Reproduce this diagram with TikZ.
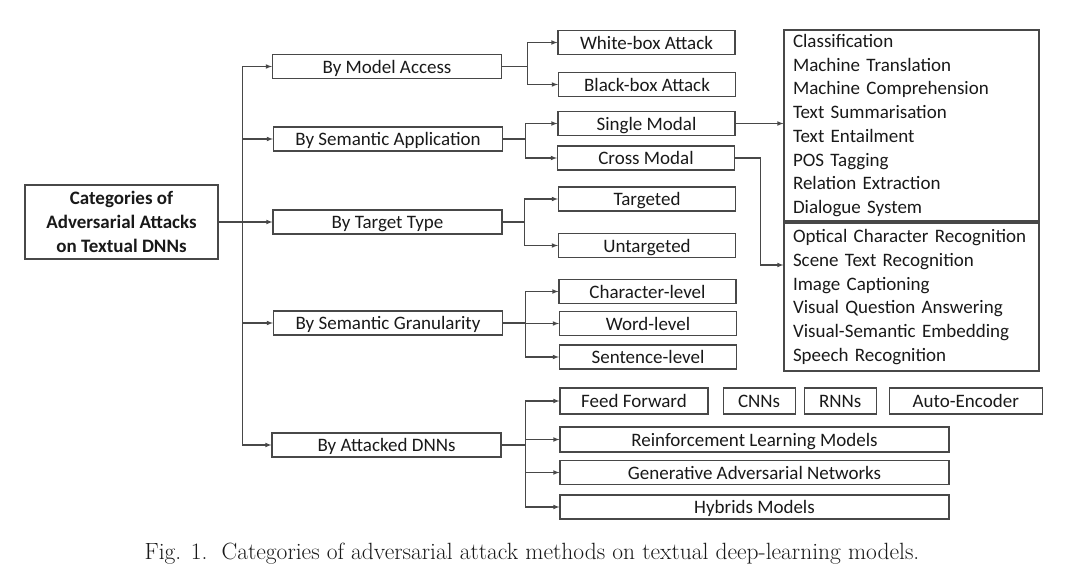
\documentclass[tikz,border=0pt]{standalone}
\usepackage{fontspec}
\setsansfont{Carlito}
\usepackage{tikz}
\usetikzlibrary{arrows,positioning}
\definecolor{mylinegray}{RGB}{72,72,72}
\definecolor{mytextgray}{RGB}{25,25,25}
\tikzstyle{catbox}=[draw=mylinegray,line width=1.1pt,rectangle,inner sep=0pt,minimum height=24pt,text=mytextgray,font=\sffamily\fontsize{19}{23.7}\selectfont]

\begin{document}
\begin{tikzpicture}[
  x=1pt, y=-1pt,
  arr/.style={-latex, draw=mylinegray, line width=1.1pt},
  conn/.style={draw=mylinegray, line width=1.1pt},
  twig/.style={catbox, text height=13pt, text depth=0pt},
  lvlone/.style={twig, minimum width=229pt},
  leaf/.style={twig, minimum width=177pt},
  listbox/.style={catbox, minimum width=255pt, text width=237pt, inner xsep=9pt, align=left}
]
\useasboundingbox (0,0) rectangle (1077,573);

% root
\node [catbox, minimum width=193pt, minimum height=74pt, align=center,
  font=\sffamily\bfseries\fontsize{19}{23.7}\selectfont] (root) at (121.5,222)
  {Categories of\\Adversarial Attacks\\on Textual DNNs};

% first level
\node [lvlone] (access) at (387,66.5) {By Model Access};
\node [lvlone] (application) at (388,139) {By Semantic Application};
\node [lvlone] (target) at (387.5,222) {By Target Type};
\node [lvlone] (granularity) at (388,323) {By Semantic Granularity};
\node [lvlone] (dnns) at (386.5,445) {By Attacked DNNs};

% second level
\node [leaf] (whitebox) at (646.5,42.5) {White-box Attack};
\node [leaf] (blackbox) at (647,84.5) {Black-box Attack};
\node [leaf] (single) at (646.5,123.5) {Single Modal};
\node [leaf] (cross) at (646,158) {Cross Modal};
\node [leaf] (targeted) at (647,199) {Targeted};
\node [leaf] (untargeted) at (647,245.5) {Untargeted};
\node [leaf] (charlevel) at (647.5,291.5) {Character-level};
\node [leaf] (wordlevel) at (648,323.5) {Word-level};
\node [leaf] (sentlevel) at (648,357) {Sentence-level};

\node [twig, minimum width=148pt, minimum height=26pt] (feedfwd) at (634,401) {Feed Forward};
\node [twig, minimum width=72pt, minimum height=26pt, right=14pt of feedfwd] (cnns) {CNNs};
\node [twig, minimum width=72pt, minimum height=26pt, right=8pt of cnns] (rnns) {RNNs};
\node [twig, minimum width=153pt, minimum height=26pt, right=12pt of rnns] (autoenc) {Auto-Encoder};
\node [twig, minimum width=389pt, minimum height=25pt] (reinf) at (754.5,439.5) {Reinforcement Learning Models};
\node [twig, minimum width=389pt] (gans) at (754.5,472.5) {Generative Adversarial Networks};
\node [twig, minimum width=389pt] (hybrids) at (754.5,507) {Hybrids Models};

% application lists
\node [listbox, minimum height=191pt] (singlelist) at (911.5,125.5)
  {Classification\\Machine Translation\\Machine Comprehension\\Text Summarisation\\Text Entailment\\POS Tagging\\Relation Extraction\\Dialogue System};
\node [listbox, minimum height=148pt] (crosslist) at (911.5,297)
  {Optical Character Recognition\\Scene Text Recognition\\Image Captioning\\Visual Question Answering\\Visual-Semantic Embedding\\Speech Recognition};

% trunk
\coordinate (trunk) at ([xshift=24pt]root.east);
\draw [conn] (root.east) -- (trunk);
\draw [arr] (trunk) |- (access);
\draw [arr] (trunk) |- (application);
\draw [arr] (trunk) -- (target);
\draw [arr] (trunk) |- (granularity);
\draw [arr] (trunk) |- (dnns);

% branches
\draw [conn] (access.east) -- ++(25,0) coordinate (jaccess);
\draw [arr] (jaccess) |- (whitebox);
\draw [arr] (jaccess) |- (blackbox);

\draw [conn] (application.east) -- ++(22,0) coordinate (japplication);
\draw [arr] (japplication) |- (single);
\draw [arr] (japplication) |- (cross);

\draw [conn] (target.east) -- ++(22,0) coordinate (jtarget);
\draw [arr] (jtarget) |- (targeted);
\draw [arr] (jtarget) |- (untargeted);

\draw [conn] (granularity.east) -- ++(22,0) coordinate (jgranularity);
\draw [arr] (jgranularity) |- (charlevel);
\draw [arr] (jgranularity) |- (wordlevel);
\draw [arr] (jgranularity) |- (sentlevel);

\draw [conn] (dnns.east) -- ++(24,0) coordinate (jdnns);
\draw [arr] (jdnns) |- (feedfwd);
\draw [arr] (jdnns) |- (reinf);
\draw [arr] (jdnns) |- (gans);
\draw [arr] (jdnns) |- (hybrids);

% to the lists
\draw [arr] (single) -- (single -| singlelist.west);
\draw [arr] (cross.east) -- ++(25,0) |- ([yshift=32pt]crosslist.west);

% caption
\node [anchor=base, text=mytextgray, font=\fontsize{23.5}{28}\selectfont] (caption) at (532,559)
  {Fig. 1.\ \ Categories of adversarial attack methods on textual deep-learning models.};
\end{tikzpicture}
\end{document}
